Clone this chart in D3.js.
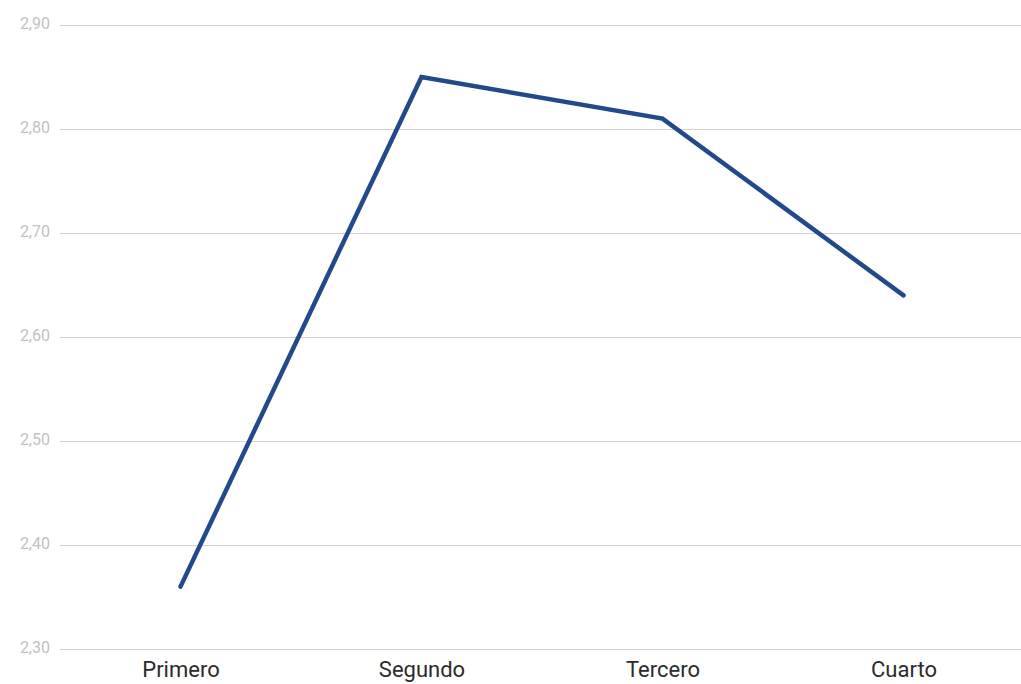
<!DOCTYPE html>
<html>
<head>
<meta charset="utf-8">
<script src="https://cdn.jsdelivr.net/npm/d3@7"></script>
<style>
  html, body { margin: 0; padding: 0; background: #fff; }
  svg { display: block; }
</style>
</head>
<body>
<svg id="chart" width="1021" height="684"></svg>
<script>
// Quarterly values
const categories = ["Primero", "Segundo", "Tercero", "Cuarto"];
const values = [2.36, 2.85, 2.81, 2.64];
const yTicks = [2.3, 2.4, 2.5, 2.6, 2.7, 2.8, 2.9];

const svg = d3.select("#chart");
const plot = { left: 60, right: 1024, top: 25, bottom: 649 };

const x = d3.scalePoint().domain(categories).range([plot.left, plot.right]).padding(0.5);
const y = d3.scaleLinear().domain([2.3, 2.9]).range([plot.bottom, plot.top]);

const fmt = v => d3.format(".2f")(v).replace(".", ",");

// Horizontal gridlines with value labels
const yAxis = d3.axisLeft(y)
  .tickValues(yTicks)
  .tickSize(-(1021 - plot.left))
  .tickPadding(10)
  .tickFormat(fmt);

const gy = svg.append("g").attr("transform", `translate(${plot.left},0)`).call(yAxis);
gy.select(".domain").remove();
gy.selectAll(".tick line").attr("stroke", "#d3d3d3").attr("stroke-width", 1.2);
gy.selectAll(".tick text")
  .attr("fill", "#c2c2c2")
  .attr("dy", "0.2em")
  .style("font-family", "Roboto, sans-serif")
  .style("font-size", "16px");

// Category labels
const xAxis = d3.axisBottom(x).tickSize(0).tickPadding(12);
const gx = svg.append("g").attr("transform", `translate(0,${plot.bottom})`).call(xAxis);
gx.select(".domain").remove();
gx.selectAll(".tick text")
  .attr("fill", "#2b2b2b")
  .style("font-family", "Roboto, sans-serif")
  .style("font-size", "22px");

// Series line
const line = d3.line()
  .x((d, i) => x(categories[i]))
  .y(d => y(d));

svg.append("path")
  .datum(values)
  .attr("d", line)
  .attr("fill", "none")
  .attr("stroke", "#224a8b")
  .attr("stroke-width", 4.5)
  .attr("stroke-linejoin", "miter")
  .attr("stroke-linecap", "round");
</script>
</body>
</html>
